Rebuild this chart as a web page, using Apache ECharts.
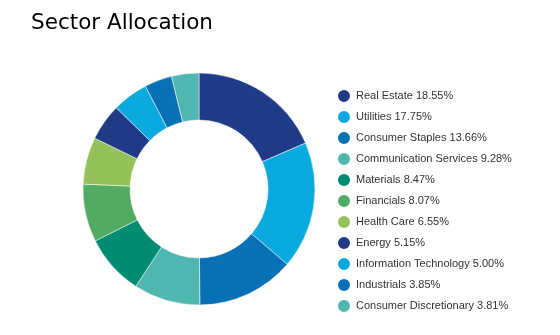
<!DOCTYPE html>
<html><head><meta charset="utf-8">
<script src="https://cdn.jsdelivr.net/npm/echarts@6/dist/echarts.min.js"></script>
<style>html,body{margin:0;padding:0;background:#fff}#c{width:560px;height:335px}</style>
</head><body><div id="c"></div>
<script>
const categories = ["Real Estate","Utilities","Consumer Staples","Communication Services","Materials","Financials","Health Care","Energy","Information Technology","Industrials","Consumer Discretionary"];
const values = [18.55,17.75,13.66,9.28,8.47,8.07,6.55,5.15,5.00,3.85,3.81];
const colors = ["#1f3a87","#0aa9e0","#0870b4","#50b7b0","#008c73","#52ab62","#95c159","#1f3a87","#0aa9e0","#0870b4","#50b7b0"];
const chart = echarts.init(document.getElementById('c'));
chart.setOption({
  animation:false,
  title:{text:"Sector Allocation",left:26,top:7,textStyle:{fontFamily:"DejaVu Sans",fontSize:21.5,fontWeight:"normal",color:"#000"}},
  legend:{orient:"vertical",left:331,top:83,height:250,icon:"circle",itemWidth:14,itemHeight:14,itemGap:5,
    textStyle:{fontFamily:"Liberation Sans",fontSize:11,color:"#333"},
    formatter:function(n){const i=categories.indexOf(n);return n+" "+values[i].toFixed(2)+"%";}},
  color:colors,
  series:[{type:"pie",center:[199,189],radius:[69,116],startAngle:90,label:{show:false},labelLine:{show:false},
    itemStyle:{borderColor:"#fff",borderWidth:0.5},emphasis:{disabled:true},
    data:categories.map((c,i)=>({name:c,value:values[i]}))}]
});
</script></body></html>
